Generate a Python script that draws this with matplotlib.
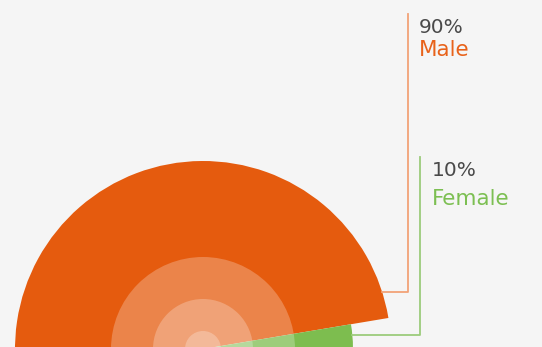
import matplotlib.pyplot as plt
from matplotlib.patches import Circle

# данные
labels = ["Male", "Female"]
shares = [90, 10]
colors = ["#E55B0E", "#7DBD4F"]
text_colors = ["#E8621A", "#7CBF52"]
line_colors = ["#F2A277", "#9CCB7C"]

W, H = 542, 347
fig = plt.figure(figsize=(W / 100, H / 100), dpi=100)
fig.patch.set_facecolor("#F5F5F5")
ax = fig.add_axes([0, 0, 1, 1])
ax.set_facecolor("#F5F5F5")

# центр пирога в пикселях (y снизу вверх)
cx, cy = 203, H - 349
wedges, _ = ax.pie(shares, colors=colors, startangle=9.5, counterclock=True,
                   radius=188, center=(cx, cy),
                   wedgeprops=dict(linewidth=0))
wedges[1].set_radius(150)

# полупрозрачные круги в центре
for r in [92, 50, 18]:
    ax.add_patch(Circle((cx, cy), r, facecolor="white", alpha=0.25,
                        edgecolor="none", zorder=5))

# выноски
ax.plot([382, 408, 408], [H - 292, H - 292, H - 14], color=line_colors[0], lw=1.3)
ax.plot([352, 420, 420], [H - 335, H - 335, H - 157], color=line_colors[1], lw=1.3)

font = "DejaVu Sans"
ax.text(419, H - 33, f"{shares[0]}%", fontsize=14.5, color="#4A4A4A",
        family=font, va="baseline")
ax.text(419, H - 56, labels[0], fontsize=15.5, color=text_colors[0],
        family=font, va="baseline")
ax.text(432, H - 176, f"{shares[1]}%", fontsize=14.5, color="#4A4A4A",
        family=font, va="baseline")
ax.text(432, H - 205, labels[1], fontsize=15.5, color=text_colors[1],
        family=font, va="baseline")

ax.set_xlim(0, W)
ax.set_ylim(0, H)
ax.set_aspect("auto")
ax.axis("off")

fig.savefig("out.png", dpi=100, facecolor=fig.get_facecolor())
